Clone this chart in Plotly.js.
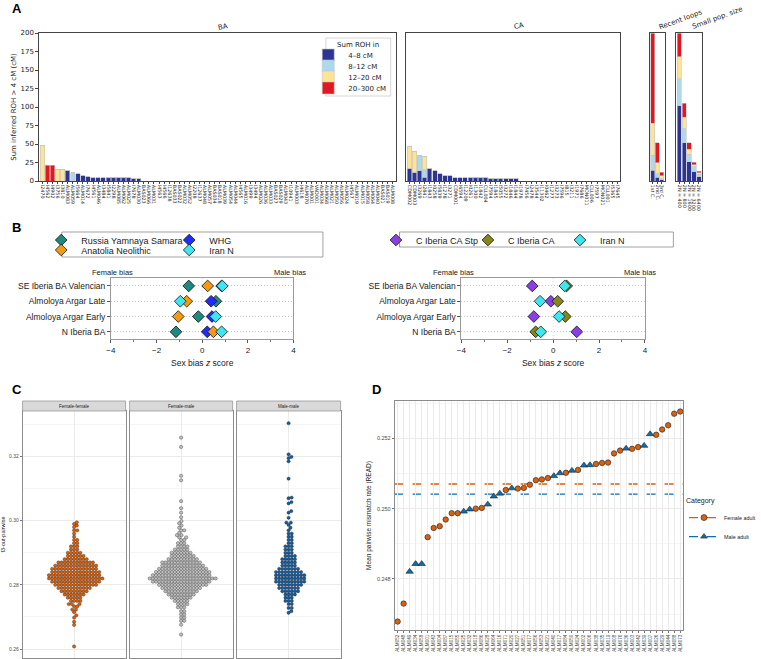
<!DOCTYPE html>
<html>
<head>
<meta charset="utf-8">
<script src="https://cdn.plot.ly/plotly-3.0.1.min.js"></script>
<style>
  html, body { margin: 0; padding: 0; background: #fff; overflow: hidden; }
  #fig { width: 761px; height: 659px; }
</style>
</head>
<body>
<div id="fig"></div>
<script>
// ---------- Panel A: summed ROH per individual ----------
const rohBins = ['4–8 cM', '8–12 cM', '12–20 cM', '20–300 cM'];
const rohColors = ['#2c3593', '#acd9eb', '#fde393', '#e2171f'];

const baLabels = [
  "I2470","I4562","I4902","I3756","I3810","ALM083","ALM059","I5664","ALM014","I7672",
  "I4561","ALM046","I3484","I5841","I2298","ALM085","ALM062","ALM025","I7678","ALM030",
  "BAS023","ALM066","ALM031","I4563","I4566","I12638","BAS033","BAS022","ALM032","ALM052",
  "I2208","I12637","ALM048","ALM057","BAS034","BAS018","ALM039","ALM054","ALM044","I4565",
  "ALM016","I3499","I3494","ALM026","ALM036","ALM033","BAS027","BAS029","ALM043","I10941",
  "ALM003","I4618","ALM070","ALM001","VAD001","ALM034","ALM068","ALM021","ALM050","ALM056",
  "ALM024","I4567","ALM019","ALM015","ALM058","ALM064","ALM040","BAS021","BAS019","ALM008"
];
const ba48 = [
  0,0,0,0,0,14.5,0,9.5,6.8,5.9,
  4.6,4.5,4.5,4.4,4.4,4.3,4.2,4.1,4.0,3.9,
  0,0,0,0,0,0,0,0,0,0,
  0,0,0,0,0,0,0,0,0,0,
  0,0,0,0,0,0,0,0,0,0,
  0,0,0,0,0,0,0,0,0,0,
  0,0,0,0,0,0,0,0,0,0
];
const ba812 = [
  0,0,0,0,0,0,11,0,0,0,
  0,0,0,0,0,0,0,0,0,0,
  0,0,0,0,0,0,0,0,0,0,
  0,0,0,0,0,0,0,0,0,0,
  0,0,0,0,0,0,0,0,0,0,
  0,0,0,0,0,0,0,0,0,0,
  0,0,0,0,0,0,0,0,0,0
];
const ba1220 = [
  48,0,0,15.5,15.5,0,0,0,0,0,
  0,0,0,0,0,0,0,0,0,0,
  0,0,0,0,0,0,0,0,0,0,
  0,0,0,0,0,0,0,0,0,0,
  0,0,0,0,0,0,0,0,0,0,
  0,0,0,0,0,0,0,0,0,0,
  0,0,0,0,0,0,0,0,0,0
];
const ba20300 = [
  0,21,21,0,0,0,0,0,0,0,
  0,0,0,0,0,0,0,0,0,0,
  0,0,0,0,0,0,0,0,0,0,
  0,0,0,0,0,0,0,0,0,0,
  0,0,0,0,0,0,0,0,0,0,
  0,0,0,0,0,0,0,0,0,0,
  0,0,0,0,0,0,0,0,0,0
];

const caLabels = [
  "CDM002","CDM003","I3269","I2841","I1843","I0258","I5839","I1278","I3271","CDM001",
  "I6594","I12209","I0261","I1300","I1842","CLL004","I7594","I1845","I5055","I3272",
  "I1846","I1844","I1978","I7456","I2478","I3544","I11302","I0462","I1277","I3273",
  "I7596","IB15","I3211","I1971","I7686","MON011","CLL006","I7597","MON021","CLL001",
  "I5365","I7645"
];
const ca48 = [
  17,12,14,5,16.4,14,9.5,7.7,6.8,4.5,
  4.4,4.4,4.3,4.3,4.2,4.1,4.0,4.0,3.9,3.8,
  3.7,3.6,0,0,0,0,0,0,0,0,
  0,0,0,0,0,0,0,0,0,0,
  0,0
];
const ca812 = [
  0,0,21,10.5,0,0,0,0,0,0,
  0,0,0,0,0,0,0,0,0,0,
  0,0,0,0,0,0,0,0,0,0,
  0,0,0,0,0,0,0,0,0,0,
  0,0
];
const ca1220 = [
  29,28.5,0,17.5,0,0,0,0,0,0,
  0,0,0,0,0,0,0,0,0,0,
  0,0,0,0,0,0,0,0,0,0,
  0,0,0,0,0,0,0,0,0,0,
  0,0
];
const ca20300 = [
  0,0,0,0,0,0,0,0,0,0,
  0,0,0,0,0,0,0,0,0,0,
  0,0,0,0,0,0,0,0,0,0,
  0,0,0,0,0,0,0,0,0,0,
  0,0
];

const rlLabels = ["1st C.", "2nd C.", "3rd C."];
const rl48 = [14.6, 5, 1.4];
const rl812 = [20.4, 5, 1.6];
const rl1220 = [43, 15, 4];
const rl20300 = [122, 27, 5];

const spLabels = ["2N = 400", "2N = 800", "2N = 1600", "2N = 3200", "2N = 6400"];
const sp48 = [102, 52, 26, 12.3, 6];
const sp812 = [36, 18.6, 10, 6.7, 3];
const sp1220 = [30, 15.4, 7, 3, 2];
const sp20300 = [32, 19, 9, 3.5, 2];

// ---------- Panel B: sex bias z scores ----------
const bRows = ['N Iberia BA', 'Almoloya Argar Early', 'Almoloya Argar Late', 'SE Iberia BA Valencian'];
const russiaZ = [-1.15, -0.17, 0.60, -0.59];
const whgZ = [0.22, 0.43, 0.39, 0.85];
const anatoliaZ = [0.49, -1.05, -0.68, 0.24];
const iranLeftZ = [0.85, 0.59, -0.96, 0.88];
const ciberiaStpZ = [1.03, -0.84, -0.10, -0.91];
const ciberiaCaZ = [-0.76, 0.53, 0.20, 0.59];
const iranRightZ = [-0.54, 0.26, -0.57, 0.51];

// ---------- Panel C: f3-outgroup pairwise (value levels, number of pairs) ----------
const ffLevels = [0.2608,0.2675,0.2685,0.2698,0.2705,0.2715,0.2723,0.2733,0.274,0.275,0.276,0.277,0.278,0.279,0.280,0.281,0.282,0.283,0.284,0.285,0.286,0.287,0.288,0.289,0.290,0.291,0.292,0.293,0.294,0.295,0.296,0.297,0.298,0.2985,0.299,0.2995];
const ffCounts = [1,1,1,1,1,1,2,2,3,4,5,7,9,11,14,16,18,17,16,15,14,12,8,6,5,3,3,2,2,1,1,2,1,1,1,1];
const fmLevels = [0.2645,0.2676,0.2688,0.2698,0.2708,0.2718,0.273,0.274,0.275,0.276,0.277,0.278,0.279,0.280,0.281,0.282,0.283,0.284,0.285,0.286,0.287,0.288,0.289,0.290,0.291,0.292,0.293,0.294,0.2948,0.2955,0.2962,0.297,0.2978,0.2985,0.2992,0.2999,0.3011,0.3025,0.3039,0.3061,0.3126,0.314,0.323,0.3259];
const fmCounts = [1,1,2,2,2,2,3,4,5,7,9,11,13,16,19,22,19,18,16,14,13,10,8,7,5,4,3,2,2,2,1,2,1,1,1,1,1,1,1,1,1,1,1,1];
const mmLevels = [0.2713,0.2718,0.2728,0.274,0.275,0.276,0.277,0.278,0.279,0.280,0.281,0.282,0.283,0.284,0.285,0.286,0.287,0.288,0.289,0.290,0.291,0.292,0.293,0.294,0.295,0.296,0.297,0.2978,0.2987,0.2994,0.3009,0.3025,0.303,0.3054,0.3058,0.307,0.3072,0.3131,0.3185,0.3195,0.3199,0.3207,0.3304];
const mmCounts = [1,1,2,2,3,3,4,6,7,8,10,10,10,9,7,5,5,5,4,3,3,3,2,2,2,2,1,1,1,2,1,1,1,1,1,1,1,1,1,1,1,1,1];

// ---------- Panel D: mean pairwise mismatch (READ) ----------
const dLabels = [
  "ALM052","ALM048","ALM049","ALM034","ALM058","ALM001","ALM043","ALM004","ALM087","ALM015",
  "ALM055","ALM025","ALM032","ALM018","ALM086","ALM028","ALM064","ALM016","ALM071","ALM020",
  "ALM027","ALM051","ALM077","ALM056","ALM053","ALM021","ALM040","ALM017","ALM084","ALM050",
  "ALM024","ALM002","ALM006","ALM038","ALM035","ALM019","ALM008","ALM076","ALM036","ALM003",
  "ALM042","ALM039","ALM007","ALM026","ALM029","ALM044","ALM088","ALM073"
];
const dValues = [
  0.24679,0.24730,0.24821,0.24843,0.24843,0.24919,0.24945,0.24950,0.24969,0.24987,
  0.24987,0.24992,0.24998,0.25000,0.25002,0.25012,0.25035,0.25043,0.25053,0.25058,
  0.25057,0.25059,0.25068,0.25081,0.25083,0.25087,0.25093,0.25101,0.25102,0.25108,
  0.25110,0.25123,0.25124,0.25127,0.25130,0.25131,0.25157,0.25165,0.25171,0.25170,
  0.25175,0.25179,0.25212,0.25210,0.25225,0.25237,0.25270,0.25276
];
const dSex = [
  "F","F","M","M","M","F","F","F","F","F",
  "F","M","M","F","F","M","M","M","F","M",
  "F","F","F","F","F","F","M","M","F","M",
  "F","M","M","F","F","F","F","F","M","F",
  "F","M","M","F","F","F","F","F"
];
const femaleMean = 0.25070;
const maleMean = 0.25041;

// ---------- layout helpers ----------
const W = 761, H = 659;
const px = v => v / W;
const py = v => 1 - v / H;
const dv = 'DejaVu Sans, sans-serif';
const ls = 'Liberation Sans, Arial, sans-serif';

const aY = [py(181), py(33)];
const bY = [py(339), py(278)];
const cY = [py(658), py(411)];
const cRange = [0.2572, 0.3342];
const cFacets = [[23, 128], [132, 237], [241, 347]];
const aLegendNames = ['legend', 'legend6', 'legend7', 'legend8'];
const aLegendRows = [55, 66, 77, 88];

const traces = [];

// A bars
const aGroups = [
  {labels: baLabels, vals: [ba48, ba812, ba1220, ba20300], x: 'x', y: 'y'},
  {labels: caLabels, vals: [ca48, ca812, ca1220, ca20300], x: 'x2', y: 'y2'},
  {labels: rlLabels, vals: [rl48, rl812, rl1220, rl20300], x: 'x3', y: 'y3'},
  {labels: spLabels, vals: [sp48, sp812, sp1220, sp20300], x: 'x4', y: 'y4'}
];
aGroups.forEach((g, gi) => {
  g.vals.forEach((v, k) => {
    traces.push({
      type: 'bar', x: g.labels, y: v, xaxis: g.x, yaxis: g.y,
      name: rohBins[k], legendgroup: rohBins[k], showlegend: gi === 0, legend: aLegendNames[k],
      marker: {color: rohColors[k], line: {color: '#c4c4c4', width: 0.6}}
    });
  });
});

// B diamonds
const bSeries = [
  {name: 'Russia Yamnaya Samara', z: russiaZ, color: '#1b8a80', legend: 'legend2', ax: ['x5', 'y5']},
  {name: 'WHG', z: whgZ, color: '#1f2bff', legend: 'legend2', ax: ['x5', 'y5']},
  {name: 'Anatolia Neolithic', z: anatoliaZ, color: '#f39a12', legend: 'legend3', ax: ['x5', 'y5']},
  {name: 'Iran N', z: iranLeftZ, color: '#3fe6ee', legend: 'legend3', ax: ['x5', 'y5']},
  {name: 'C Iberia CA Stp', z: ciberiaStpZ, color: '#8a3ee8', legend: 'legend4', ax: ['x6', 'y6']},
  {name: 'C Iberia CA', z: ciberiaCaZ, color: '#86861a', legend: 'legend4', ax: ['x6', 'y6']},
  {name: 'Iran N', z: iranRightZ, color: '#3fe6ee', legend: 'legend4', ax: ['x6', 'y6']}
];
bSeries.forEach(s => {
  traces.push({
    type: 'scatter', mode: 'markers', x: s.z, y: bRows, xaxis: s.ax[0], yaxis: s.ax[1],
    name: s.name, legend: s.legend,
    marker: {symbol: 'diamond', size: 9, color: s.color, line: {color: '#111', width: 0.8}}
  });
});

// C beeswarm: expand levels, then place points side by side so they do not overlap
function expand(levels, counts) {
  const out = [];
  levels.forEach((v, i) => { for (let k = 0; k < counts[i]; k++) out.push(v); });
  return out;
}
function swarm(vals, diam, xScale, yScale) {
  const sorted = vals.slice().sort((a, b) => a - b);
  const placed = [];
  const xs = [];
  sorted.forEach(v => {
    const y = v * yScale;
    const near = placed.filter(p => Math.abs(p.y - y) < diam);
    const cands = [0];
    near.forEach(p => {
      const dx = Math.sqrt(diam * diam - (p.y - y) * (p.y - y));
      cands.push(p.x + dx, p.x - dx);
    });
    cands.sort((a, b) => Math.abs(a) - Math.abs(b));
    let best = 0;
    for (const c of cands) {
      if (near.every(p => (p.x - c) ** 2 + (p.y - y) ** 2 >= diam * diam - 1e-6)) { best = c; break; }
    }
    placed.push({x: best, y: y});
    xs.push(best / xScale);
  });
  return {x: xs, y: sorted};
}
const cSeries = [
  {name: 'Female-female', vals: expand(ffLevels, ffCounts), color: '#d9600c'},
  {name: 'Female-male', vals: expand(fmLevels, fmCounts), color: '#bdbdbd'},
  {name: 'Male-male', vals: expand(mmLevels, mmCounts), color: '#165c9e'}
];
const cYScale = (658 - 411) / (cRange[1] - cRange[0]);
cSeries.forEach((s, i) => {
  const xScale = (cFacets[i][1] - cFacets[i][0]) / 2;
  const sw = swarm(s.vals, 3.2, xScale, cYScale);
  traces.push({
    type: 'scatter', mode: 'markers', x: sw.x, y: sw.y,
    xaxis: 'x' + (7 + i), yaxis: 'y' + (7 + i), name: s.name, showlegend: false,
    marker: {size: 3.3, color: s.color, line: {color: '#222', width: 0.35}}
  });
});

// D points
const dColors = {F: '#d9600c', M: '#0f6cad'};
['F', 'M'].forEach(sex => {
  const idx = dSex.map((s, i) => s === sex ? i : -1).filter(i => i >= 0);
  traces.push({
    type: 'scatter', mode: 'markers',
    x: idx.map(i => dLabels[i]), y: idx.map(i => dValues[i]),
    xaxis: 'x10', yaxis: 'y10', showlegend: false,
    name: sex === 'F' ? 'Female adult' : 'Male adult',
    marker: {
      symbol: sex === 'F' ? 'circle' : 'triangle-up', size: sex === 'F' ? 5.5 : 6.5,
      color: dColors[sex], line: {color: '#222', width: 0.6}
    }
  });
});
['F', 'M'].forEach(sex => {
  traces.push({
    type: 'scatter', mode: 'lines+markers', x: [null], y: [null], xaxis: 'x10', yaxis: 'y10',
    name: sex === 'F' ? 'Female adult' : 'Male adult', legend: 'legend5',
    line: {color: dColors[sex], dash: 'dash', width: 1.2},
    marker: {symbol: sex === 'F' ? 'circle' : 'triangle-up', size: 6, color: dColors[sex], line: {color: '#222', width: 0.6}}
  });
});

// ---------- axes ----------
const frameA = {showline: true, mirror: true, linecolor: '#444', linewidth: 0.8, showgrid: false, zeroline: false, fixedrange: true};
function aX(domain, anchor, labels) {
  return Object.assign({
    domain: domain, anchor: anchor, type: 'category', range: [-0.6, labels.length - 0.4],
    tickmode: 'array', tickvals: labels, tickangle: 90,
    tickfont: {family: dv, size: 4.8, color: '#222'}, ticks: 'outside', ticklen: 2, tickwidth: 0.5
  }, frameA);
}
function aYax(anchor, labelled) {
  return Object.assign({
    domain: aY, anchor: anchor, range: [0, 200], tickvals: [0, 25, 50, 75, 100, 125, 150, 175, 200],
    ticks: labelled ? 'outside' : '', ticklen: 3, showticklabels: labelled,
    tickfont: {family: dv, size: 7, color: '#222'},
    title: labelled ? {text: 'Sum inferred ROH > 4 cM (cM)', font: {family: dv, size: 7}, standoff: 3} : undefined
  }, frameA);
}
function bX(domain, anchor) {
  return {
    domain: domain, anchor: anchor, range: [-4, 4], tickmode: 'linear', tick0: -4, dtick: 2,
    ticks: 'outside', ticklen: 3, tickcolor: '#555', tickfont: {size: 8, color: '#222'},
    minor: {dtick: 1, tick0: -4, ticks: 'outside', ticklen: 2, tickcolor: '#777'},
    showgrid: false, zeroline: false, showline: true, mirror: true, linecolor: '#9a9a9a', linewidth: 0.8,
    title: {text: 'Sex bias <i>z</i> score', font: {size: 8.5, color: '#222'}, standoff: 6}, fixedrange: true
  };
}
function bYax(anchor) {
  return {
    domain: bY, anchor: anchor, type: 'category', categoryorder: 'array', categoryarray: bRows,
    range: [-0.47, 3.52], showgrid: true, griddash: '1px,2px', gridcolor: '#c8c8c8', gridwidth: 0.7,
    ticks: 'outside', ticklen: 3, tickcolor: '#555', tickfont: {size: 8.5, color: '#222'},
    showline: true, mirror: true, linecolor: '#9a9a9a', linewidth: 0.8, zeroline: false, fixedrange: true
  };
}
const frameC = {showline: true, mirror: true, linecolor: '#8c8c8c', linewidth: 0.7, zeroline: false, fixedrange: true};
function cX(i) {
  return Object.assign({
    domain: [px(cFacets[i][0]), px(cFacets[i][1])], anchor: 'y' + (7 + i), range: [-1, 1],
    tickvals: [0], showticklabels: false, ticks: '', showgrid: true, gridcolor: '#ebebeb', gridwidth: 0.8
  }, frameC);
}
function cYax(i) {
  return Object.assign({
    domain: cY, anchor: 'x' + (7 + i), range: cRange,
    tickvals: [0.26, 0.28, 0.30, 0.32], ticktext: ['0.26', '0.28', '0.30', '0.32'],
    showticklabels: i === 0, ticks: i === 0 ? 'outside' : '', ticklen: 2, tickcolor: '#777',
    tickfont: {size: 5, color: '#4d4d4d'},
    showgrid: true, gridcolor: '#ebebeb', gridwidth: 0.8,
    minor: {tickvals: [0.27, 0.29, 0.31, 0.33], showgrid: true, gridcolor: '#f5f5f5', gridwidth: 0.6, ticks: ''},
    title: i === 0 ? {text: 'f3-out-pairwise', font: {size: 5.5, color: '#222'}, standoff: 3} : undefined
  }, frameC);
}

function note(text, x, y, font, extra) {
  return Object.assign({text: text, x: px(x), y: py(y), xref: 'paper', yref: 'paper', showarrow: false,
    xanchor: 'center', yanchor: 'middle', font: font}, extra || {});
}
function rowLegend(x, y, size, entry) {
  return {orientation: 'h', x: px(x), y: py(y), xanchor: 'left', yanchor: 'middle', font: {size: size},
    entrywidth: entry, entrywidthmode: 'pixels', bgcolor: 'rgba(0,0,0,0)', borderwidth: 0, itemwidth: 30};
}

const layout = {
  width: W, height: H, autosize: false, margin: {l: 0, r: 0, t: 0, b: 0, pad: 0},
  paper_bgcolor: '#fff', plot_bgcolor: '#fff',
  font: {family: ls, size: 8, color: '#222'},
  barmode: 'stack', bargap: 0.12, showlegend: true, hovermode: 'closest',

  xaxis: aX([px(40), px(403)], 'y', baLabels),
  yaxis: aYax('x', true),
  xaxis2: aX([px(414), px(632)], 'y2', caLabels),
  yaxis2: aYax('x2', false),
  xaxis3: aX([px(662), px(677)], 'y3', rlLabels),
  yaxis3: aYax('x3', false),
  xaxis4: aX([px(689), px(715)], 'y4', spLabels),
  yaxis4: aYax('x4', false),

  xaxis5: bX([px(113), px(299)], 'y5'),
  yaxis5: bYax('x5'),
  xaxis6: bX([px(470), px(657)], 'y6'),
  yaxis6: bYax('x6'),

  xaxis7: cX(0), yaxis7: cYax(0),
  xaxis8: cX(1), yaxis8: cYax(1),
  xaxis9: cX(2), yaxis9: cYax(2),

  xaxis10: Object.assign({
    domain: [px(402), px(696)], anchor: 'y10', type: 'category', categoryorder: 'array', categoryarray: dLabels,
    tickmode: 'array', tickvals: dLabels,
    range: [-0.5, dLabels.length - 0.5], tickangle: -90, tickfont: {size: 4.6, color: '#4d4d4d'},
    ticks: 'outside', ticklen: 2, tickcolor: '#777', showgrid: true, gridcolor: '#ebebeb', gridwidth: 0.8
  }, frameC),
  yaxis10: Object.assign({
    domain: [py(630), py(401)], anchor: 'x10', range: [0.24655, 0.25306],
    tickvals: [0.248, 0.250, 0.252], ticktext: ['0.248', '0.250', '0.252'],
    ticks: 'outside', ticklen: 2, tickcolor: '#777', tickfont: {size: 5.5, color: '#4d4d4d'},
    showgrid: true, gridcolor: '#ebebeb', gridwidth: 0.8,
    minor: {tickvals: [0.247, 0.249, 0.251, 0.253], showgrid: true, gridcolor: '#f5f5f5', gridwidth: 0.6, ticks: ''},
    title: {text: 'Mean pairwise mismatch rate (READ)', font: {size: 6.5, color: '#222'}, standoff: 4}
  }, frameC),

  legend2: rowLegend(42, 240, 9, 83),
  legend3: rowLegend(42, 250, 9, 83),
  legend4: rowLegend(383, 240, 9, 47),
  legend5: {x: px(697), y: py(494), xanchor: 'left', yanchor: 'top', bgcolor: 'rgba(0,0,0,0)',
    font: {size: 5.4}, title: {text: 'Category', font: {size: 7}}, itemwidth: 30, tracegroupgap: 0},

  shapes: [
    // A legend frame
    {type: 'rect', xref: 'paper', yref: 'paper', x0: px(332), x1: px(398), y0: py(96), y1: py(38),
      fillcolor: '#fff', line: {color: '#cccccc', width: 0.8}},
    // B legend frames
    {type: 'rect', xref: 'paper', yref: 'paper', x0: px(63), x1: px(329), y0: py(257), y1: py(232), line: {color: '#8a8a8a', width: 0.8}},
    {type: 'rect', xref: 'paper', yref: 'paper', x0: px(407), x1: px(686), y0: py(247), y1: py(232), line: {color: '#8a8a8a', width: 0.8}},
    // B zero lines
    {type: 'line', xref: 'x5', yref: 'y5 domain', x0: 0, x1: 0, y0: 0, y1: 1, layer: 'below', line: {color: '#c8c8c8', width: 0.7, dash: '1px,2px'}},
    {type: 'line', xref: 'x6', yref: 'y6 domain', x0: 0, x1: 0, y0: 0, y1: 1, layer: 'below', line: {color: '#c8c8c8', width: 0.7, dash: '1px,2px'}},
    // C facet strips
    ...cFacets.map(f => ({type: 'rect', xref: 'paper', yref: 'paper', x0: px(f[0]), x1: px(f[1]), y0: py(411), y1: py(401),
      fillcolor: '#d9d9d9', line: {color: '#8c8c8c', width: 0.7}})),
    // D group means
    {type: 'line', xref: 'x10 domain', yref: 'y10', x0: 0, x1: 1, y0: femaleMean, y1: femaleMean, layer: 'below',
      line: {color: dColors.F, width: 1.3, dash: 'dash'}},
    {type: 'line', xref: 'x10 domain', yref: 'y10', x0: 0, x1: 1, y0: maleMean, y1: maleMean, layer: 'below',
      line: {color: dColors.M, width: 1.3, dash: 'dash'}}
  ],

  annotations: [
    note('<b>A</b>', 17, 9, {size: 13, color: '#000'}),
    note('<b>B</b>', 17, 227, {size: 13, color: '#000'}),
    note('<b>C</b>', 17, 389, {size: 13, color: '#000'}),
    note('<b>D</b>', 384, 389, {size: 13, color: '#000'}),
    note('BA', 227, 27, {family: dv, size: 7}, {textangle: -12}),
    note('CA', 529, 26, {family: dv, size: 7}, {textangle: -12}),
    note('Recent loops', 693, 20, {family: dv, size: 7}, {textangle: -20}),
    note('Small pop. size', 731, 18, {family: dv, size: 7}, {textangle: -20}),
    note('Sum ROH in', 365, 45, {family: dv, size: 7}),
    note('Female bias', 115, 272, {size: 7.5}),
    note('Male bias', 295, 272, {size: 7.5}),
    note('Female bias', 462, 272, {size: 7.5}),
    note('Male bias', 652, 272, {size: 7.5}),
    ...cSeries.map((s, i) => note(s.name, (cFacets[i][0] + cFacets[i][1]) / 2, 406, {size: 4.5, color: '#1a1a1a'}))
  ]
};
// one single-entry legend per ROH class so the entries sit as tightly as in the original
aLegendNames.forEach((name, k) => {
  layout[name] = {x: px(314), y: py(aLegendRows[k]), xanchor: 'left', yanchor: 'middle',
    bgcolor: 'rgba(0,0,0,0)', borderwidth: 0, font: {family: dv, size: 7}, itemwidth: 30};
});

Plotly.newPlot('fig', traces, layout, {displayModeBar: false});
</script>
</body>
</html>
